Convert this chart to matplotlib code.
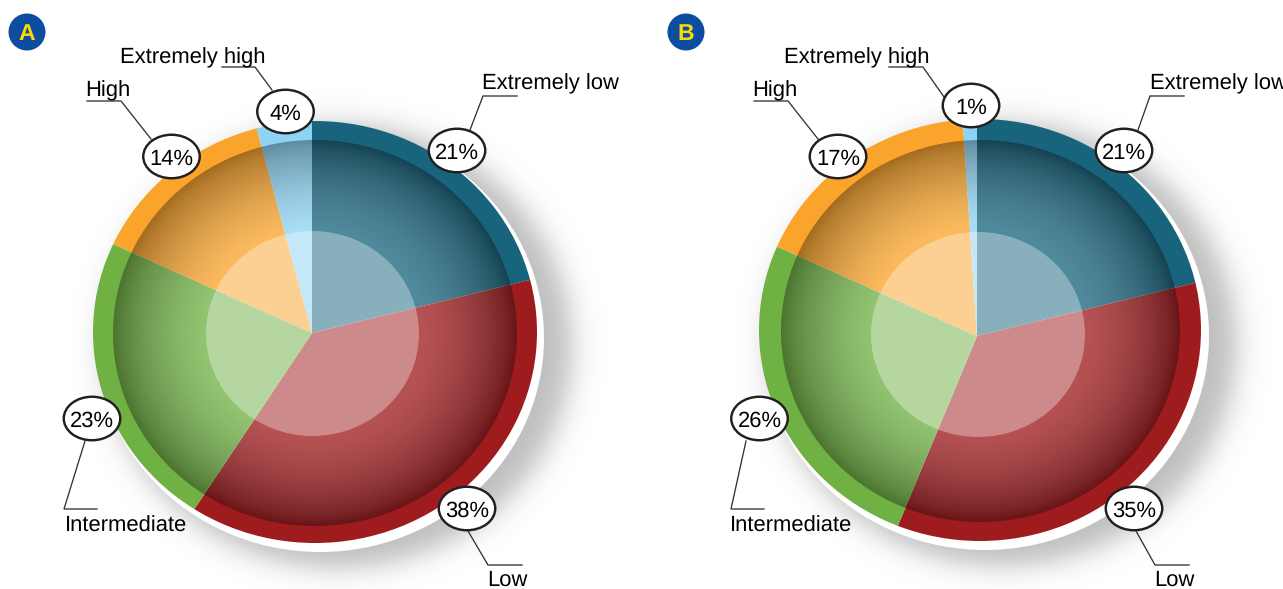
import numpy as np
import matplotlib
matplotlib.use("Agg")
import matplotlib.pyplot as plt
from matplotlib.patches import Ellipse, Circle

plt.rcParams['font.family'] = ['Liberation Sans', 'DejaVu Sans']
plt.rcParams['text.hinting'] = 'no_hinting'
plt.rcParams['text.hinting_factor'] = 1

# Share of each class per panel
categories = ["Extremely low", "Low", "Intermediate", "High", "Extremely high"]
values_a = [21, 38, 23, 14, 4]
values_b = [21, 35, 26, 17, 1]
colors = ["#19647D", "#9E1B1E", "#70B144", "#FAA42B", "#8DD3F3"]

W, H = 1283, 589
Y_SQUASH = 0.95

# Layout of each panel in canvas pixels
panel_a = dict(
    letter="A", values=values_a, badge=(27, 32),
    apex=(312, 333), ring=(315, 332, 222, 211), inner=(315, 333, 202, 193),
    core=(312.5, 333.5, 106.5, 102.5), plate=(320, 338, 224, 214),
    shadow=(338, 346, 234, 222),
    labels=[
        dict(bubble=(457, 150.5), leader=[(470, 130), (483, 96), (517, 96)], text=(482, 89)),
        dict(bubble=(467, 508.5), leader=[(468, 531), (488, 565), (522, 565)], text=(487, 586)),
        dict(bubble=(92, 418.5), leader=[(85, 441), (64, 509), (97, 509)], text=(65, 532)),
        dict(bubble=(171.5, 156.5), leader=[(151, 139), (121, 101), (87, 101)], text=(85, 96)),
        dict(bubble=(285.5, 111.5), leader=[(272, 90), (255, 67), (222, 67)], text=(120, 63)),
    ],
)
panel_b = dict(
    letter="B", values=values_b, badge=(686, 32),
    apex=(977, 336), ring=(980, 330, 221, 211), inner=(980.5, 331, 199.5, 191),
    core=(978, 334.5, 107, 102.5), plate=(985, 336, 224, 214),
    shadow=(1003, 344, 234, 222),
    labels=[
        dict(bubble=(1124, 150.5), leader=[(1138, 130), (1150, 96), (1184, 96)], text=(1150, 89)),
        dict(bubble=(1134, 508.5), leader=[(1136, 531), (1155, 565), (1189, 565)], text=(1154, 586)),
        dict(bubble=(759.5, 418.5), leader=[(746, 441), (731, 509), (764, 509)], text=(730, 532)),
        dict(bubble=(838, 156.5), leader=[(818, 139), (788, 101), (754, 101)], text=(752, 96)),
        dict(bubble=(971, 105.5), leader=[(944, 97), (923, 67), (889, 67)], text=(784, 63)),
    ],
)

fig = plt.figure(figsize=(W / 100, H / 100), dpi=100, facecolor="white")


def pixel_axes(zorder):
    ax = fig.add_axes([0, 0, 1, 1], zorder=zorder)
    ax.set_xlim(0, W)
    ax.set_ylim(H, 0)
    ax.axis("off")
    return ax


back = pixel_axes(0)
front = pixel_axes(2)


def soft_shadow(ax, cx, cy, rx, ry):
    # Blurred drop shadow: dark plateau with a logistic falloff past the ellipse
    pad = 80
    x = np.arange(cx - rx - pad, cx + rx + pad)
    y = np.arange(cy - ry - pad, cy + ry + pad)
    xx, yy = np.meshgrid(x, y)
    d = (np.hypot((xx - cx) / rx, (yy - cy) / ry) - 1) * (rx + ry) / 2
    rgba = np.zeros(xx.shape + (4,))
    rgba[..., 3] = 0.26 / (1 + np.exp(np.clip(d / 8.5, -30, 30)))
    ax.imshow(rgba, extent=(x[0], x[-1], y[-1], y[0]), aspect="auto", zorder=1,
              interpolation="bilinear")


def dome_shading(ax, cx, cy, rx, ry):
    # Radial glaze: pale wash near the middle sinking through grey to black at the rim
    n = 500
    u = np.linspace(-1, 1, n)
    xx, yy = np.meshgrid(u, u)
    t = np.hypot(xx, yy)
    stops = [0, 0.55, 0.70, 0.85, 0.95, 1.0]
    grey = np.interp(t, stops, [1.0, 1.0, 0.72, 0.42, 0.2, 0.05])
    alpha = np.interp(t, stops, [0.24, 0.24, 0.28, 0.33, 0.35, 0.37])
    rgba = np.dstack([grey, grey, grey, alpha])
    im = ax.imshow(rgba, extent=(cx - rx, cx + rx, cy + ry, cy - ry), aspect="auto",
                   zorder=1, interpolation="bilinear")
    im.set_clip_path(Ellipse((cx, cy), 2 * rx, 2 * ry, transform=ax.transData))


for panel in (panel_a, panel_b):
    ax0, ay0 = panel["apex"]

    # Shadow and offset white plate behind the pie
    soft_shadow(back, *panel["shadow"])
    px, py, prx, pry = panel["plate"]
    back.add_patch(Ellipse((px, py), 2 * prx, 2 * pry, fc="white", ec="none", zorder=2))

    # Pie in its own axes, squashed vertically, clipped to the elliptical rim
    pie_ax = fig.add_axes([0, 0, 1, 1], zorder=1)
    wedges, _ = pie_ax.pie(panel["values"], colors=colors, startangle=90,
                           counterclock=False, radius=300, center=(0, 0),
                           wedgeprops=dict(linewidth=0))
    pie_ax.set_aspect("auto")
    pie_ax.set_xlim(-ax0, W - ax0)
    pie_ax.set_ylim((ay0 - H) / Y_SQUASH, ay0 / Y_SQUASH)
    pie_ax.axis("off")
    rx0, ry0, rrx, rry = panel["ring"]
    rim = Ellipse((rx0, ry0), 2 * rrx, 2 * rry, transform=front.transData)
    for w in wedges:
        w.set_clip_on(True)
        w.set_clip_path(rim)

    # Glass dome and pale core on top of the wedges
    dome_shading(front, *panel["inner"])
    ccx, ccy, ccrx, ccry = panel["core"]
    front.add_patch(Ellipse((ccx, ccy), 2 * ccrx, 2 * ccry, fc="white", ec="none",
                            alpha=0.33, zorder=2))

    # Callouts: leader line, caption and value bubble
    for name, value, lab in zip(categories, panel["values"], panel["labels"]):
        xs, ys = zip(*lab["leader"])
        front.plot(xs, ys, color="#333333", lw=0.95, solid_joinstyle="miter", zorder=3)
        front.text(*lab["text"], name, fontsize=15.6, color="black",
                   ha="left", va="baseline", zorder=5)
        front.add_patch(Ellipse(lab["bubble"], 56.5, 43.5, fc="white", ec="#231F20",
                                lw=1.75, zorder=4))
        front.text(lab["bubble"][0], lab["bubble"][1] + 8.5, f"{value}%", fontsize=15.6,
                   color="black", ha="center", va="baseline", zorder=5)

    # Panel badge
    bx, by = panel["badge"]
    front.add_patch(Circle((bx, by), 18.5, fc="#0C4DA2", ec="none", zorder=4))
    front.text(bx, by + 8, panel["letter"], fontsize=16.5, fontweight="bold",
               color="#FFD800", ha="center", va="baseline", zorder=5)

for ax in (back, front):
    ax.set_xlim(0, W)
    ax.set_ylim(H, 0)

fig.savefig("out.png", dpi=100, facecolor="white")
